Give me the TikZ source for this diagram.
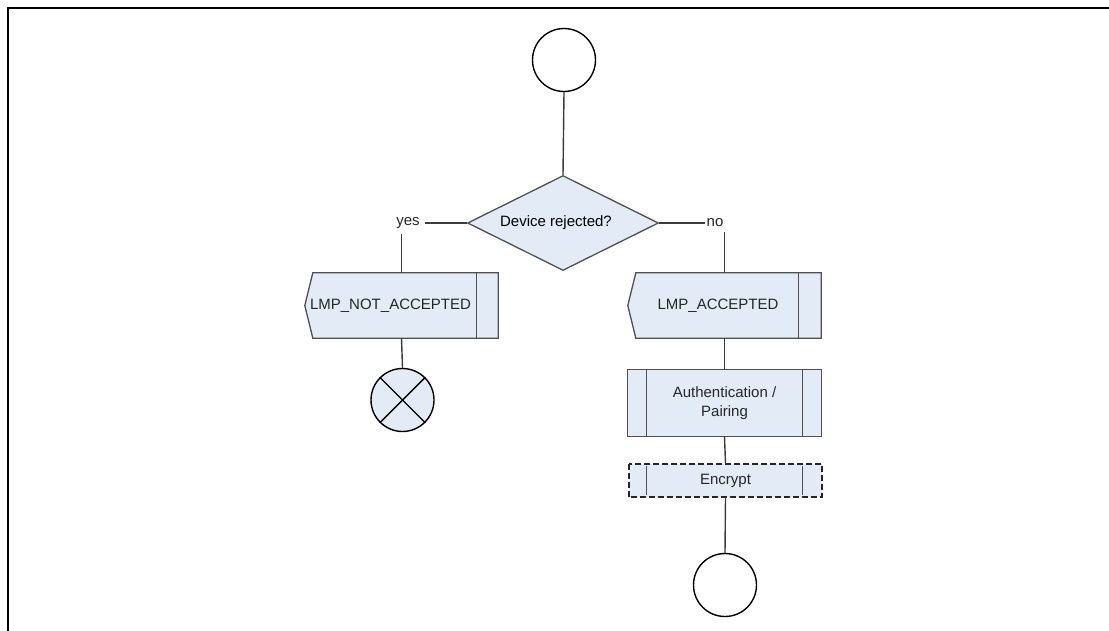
\documentclass[tikz,border=0pt]{standalone}
\usepackage{fontspec}
\setmainfont{Liberation Sans}
\usetikzlibrary{shapes.geometric}
\definecolor{boxfill}{HTML}{E3ECF6}
\definecolor{edge}{HTML}{3C3C3C}
\begin{document}
\begin{tikzpicture}[x=1pt,y=-1pt,
  every node/.style={font=\fontsize{15}{19}\selectfont, inner sep=0pt},
  conn/.style={draw=edge, line width=1.4pt},
  term/.style={circle, draw=black, line width=1.4pt, minimum size=63pt},
  boxline/.style={draw=edge!90, line width=1.3pt},
  holder/.style={rectangle, minimum width=#1, minimum height=65pt},
  decision/.style={diamond, aspect=2, draw=edge!90, fill=boxfill, line width=1.3pt, minimum width=191pt, minimum height=95pt},
  lbl/.style={align=center, text=black!85}
]
\useasboundingbox (0,0) rectangle (1109,630);
\draw[line width=2pt] (7.5,640) -- (7.5,7.5) -- (1120,7.5);

% nodes
\node[term] (start) at (564,60) {};
\node[decision] (dec) at (563,223) {\hspace*{-14pt}Device rejected?};
\node[lbl] (yes) at (408,223) {yes};
\node[lbl] (no) at (715,223) {no};

\node[holder=193pt] (nacc) at (401.5,305.5) {};
\node[holder=193pt] (acc) at (724.5,305.5) {};
\node[holder=193pt, minimum height=66pt] (auth) at (724.5,403) {};
\node[holder=193pt, minimum height=33pt] (enc) at (725.5,480.5) {};

\node[term, fill=boxfill] (stop) at (402.5,400) {};
\node[term] (end) at (725,585) {};

% shapes of the boxes
\filldraw[boxline, fill=boxfill] ([xshift=8pt]nacc.north west) -- (nacc.north east) -- (nacc.south east) -- ([xshift=8pt]nacc.south west) -- (nacc.west) -- cycle;
\draw[boxline] ([xshift=-22pt]nacc.north east) -- ([xshift=-22pt]nacc.south east);
\filldraw[boxline, fill=boxfill] ([xshift=8pt]acc.north west) -- (acc.north east) -- (acc.south east) -- ([xshift=8pt]acc.south west) -- (acc.west) -- cycle;
\draw[boxline] ([xshift=-23pt]acc.north east) -- ([xshift=-23pt]acc.south east);
\filldraw[boxline, fill=boxfill] (auth.north west) rectangle (auth.south east);
\draw[boxline] ([xshift=19pt]auth.north west) -- ([xshift=19pt]auth.south west);
\draw[boxline] ([xshift=-19pt]auth.north east) -- ([xshift=-19pt]auth.south east);
\filldraw[draw=black!85, line width=1.5pt, dash pattern=on 6pt off 3pt, fill=boxfill] (enc.north west) rectangle (enc.south east);
\draw[boxline] ([xshift=18pt,yshift=-2pt]enc.north west) -- ([xshift=18pt,yshift=2pt]enc.south west);
\draw[boxline] ([xshift=-20pt,yshift=-2pt]enc.north east) -- ([xshift=-20pt,yshift=2pt]enc.south east);

% texts
\node[lbl] (naccT) at (390.5,305.5) {LMP\_NOT\_ACCEPTED};
\node[lbl] (accT) at (718,305.5) {LMP\_ACCEPTED};
\node[lbl] (authT) at (auth.center) {Authentication /\\Pairing};
\node[lbl] (encT) at (enc.center) {Encrypt};

% cross in the stop circle
\draw[line width=1.4pt] (stop.north west) -- (stop.south east);
\draw[line width=1.4pt] (stop.north east) -- (stop.south west);

% connectors
\draw[conn] (start.south) -- (dec.north);
\draw[conn] (dec.west) -- ([xshift=5pt]yes.east);
\draw[conn] (dec.east) -- ([xshift=-1pt]no.west);
\draw[conn] ([yshift=-5pt]yes.south -| nacc.north) -- (nacc.north);
\draw[conn] ([yshift=-5pt]no.south -| acc.north) -- (acc.north);
\draw[conn] (nacc.south) -- (stop.north);
\draw[conn] (acc.south) -- (auth.north);
\draw[conn] (auth.south) -- (enc.north);
\draw[conn] (enc.south) -- (end.north);
\end{tikzpicture}
\end{document}
